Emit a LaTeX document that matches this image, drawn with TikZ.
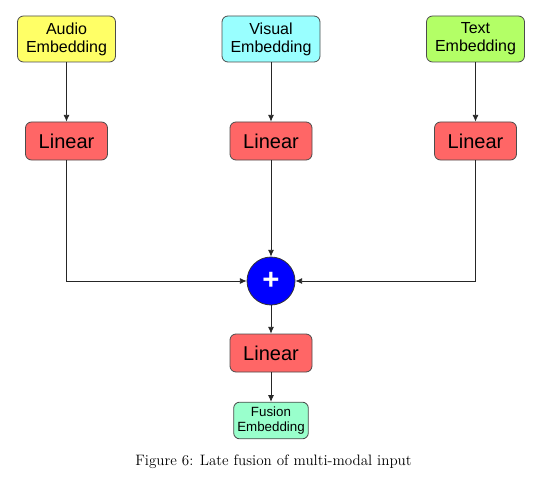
\documentclass[tikz,border=0pt]{standalone}
\usepackage{fontspec}
\newfontfamily\boxfont{Liberation Sans}
\usepackage{xcolor}
\usetikzlibrary{arrows.meta,positioning,calc}

\definecolor{audioyellow}{HTML}{FFFF66}
\definecolor{visualcyan}{HTML}{99FFFF}
\definecolor{textgreen}{HTML}{B3FF66}
\definecolor{linearred}{HTML}{FF6666}
\definecolor{fusionmint}{HTML}{99FFCC}

\begin{document}
\begin{tikzpicture}[>={Latex[length=5pt,width=4.5pt]}, x=0.75pt, y=-0.75pt,
    embbox/.style={draw=black!70, line width=0.6pt, rounded corners=4.5pt,
        minimum width=73.5pt, minimum height=34.5pt, inner sep=0pt, align=center,
        font=\boxfont\fontsize{12}{13.5}\selectfont},
    linbox/.style={draw=black!70, line width=0.6pt, rounded corners=4.5pt, fill=linearred,
        minimum width=61.5pt, minimum height=28.5pt, inner sep=0pt,
        font=\boxfont\fontsize{15}{18}\selectfont},
    flow/.style={->, line width=0.6pt, black!85}]
\useasboundingbox (0,0) rectangle (549,481);

% inputs
\node[embbox, fill=audioyellow] (audio) at (66.5,39) {Audio\\Embedding};
\node[embbox, fill=visualcyan] (visual) at (271,39) {Visual\\Embedding};
\node[embbox, fill=textgreen] (text) at (475.5,39) {Text\\Embedding};

% per-modality projections
\node[linbox] (linA) at (66.5,141) {Linear};
\node[linbox] (linV) at (271,141) {Linear};
\node[linbox] (linT) at (475.5,141) {Linear};

% fusion
\node[circle, draw=black!80, line width=0.6pt, fill=blue, minimum size=36pt, inner sep=0pt,
    text=white, font=\boxfont\bfseries\fontsize{22}{22}\selectfont] (sum) at (271,281) {+};
\node[linbox] (linF) at (271,353) {Linear};
\node[embbox, fill=fusionmint, minimum width=56pt, minimum height=27.5pt,
    font=\boxfont\fontsize{10}{11}\selectfont] (fused) at (271,420.5) {Fusion\\Embedding};

\draw[flow] (audio) -- (linA);
\draw[flow] (visual) -- (linV);
\draw[flow] (text) -- (linT);
\draw[flow] (linA.south) |- (sum.west);
\draw[flow] (linV) -- (sum);
\draw[flow] (linT.south) |- (sum.east);
\draw[flow] (sum) -- (linF);
\draw[flow] (linF) -- (fused);

\node[font=\fontsize{11.3}{13}\selectfont] (caption) at (273.5,462) {Figure 6: Late fusion of multi-modal input};
\end{tikzpicture}
\end{document}
